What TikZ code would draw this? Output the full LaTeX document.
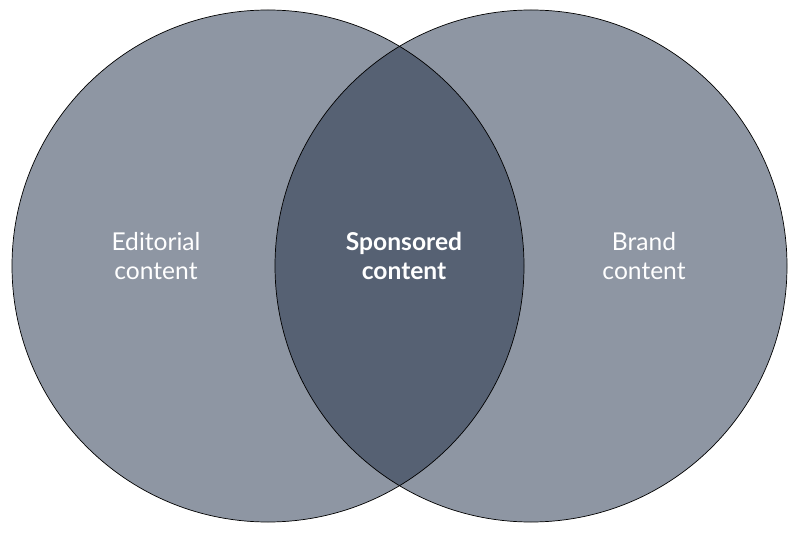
\documentclass[tikz,border=0pt]{standalone}
\usepackage{fontspec}
\setmainfont{Lato}
\usetikzlibrary{positioning}
\definecolor{outergray}{HTML}{8E96A3}
\definecolor{innergray}{HTML}{566173}
\tikzset{label text/.style={text=white, align=center, font=\fontsize{14}{17}\selectfont}}
\begin{document}
\begin{tikzpicture}[x=0.02cm,y=-0.02cm]
\useasboundingbox (0,0) rectangle (800,536);

% Outer circles
\fill[outergray] (268,266) circle (256);
\fill[outergray] (531,266) circle (256);

% Overlap
\begin{scope}
  \clip (268,266) circle (256);
  \fill[innergray] (531,266) circle (256);
\end{scope}

% Outlines
\draw[black, thin] (268,266) circle (256);
\draw[black, thin] (531,266) circle (256);

% Labels
\node[label text] (editorial) at (156,256) {Editorial\\content};
\node[label text, font=\fontsize{14}{17}\selectfont\bfseries] (sponsored) at (404,256) {Sponsored\\content};
\node[label text] (brand) at (644,256) {Brand\\content};

\end{tikzpicture}
\end{document}
